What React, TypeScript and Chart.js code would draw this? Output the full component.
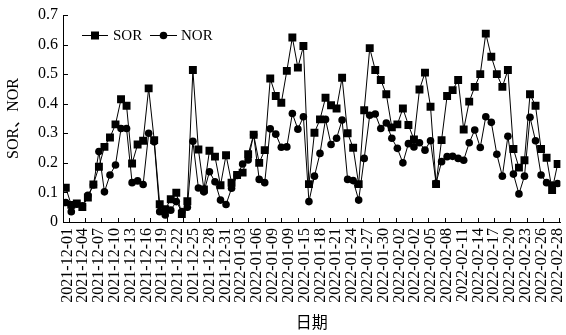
import React, { useEffect, useRef } from 'react';
import { Chart, registerables } from 'chart.js';

Chart.register(...registerables);

const dateLabels = [
  '2021-12-01', '2021-12-04', '2021-12-07', '2021-12-10', '2021-12-13', '2021-12-16',
  '2021-12-19', '2021-12-22', '2021-12-25', '2021-12-28', '2021-12-31',
  '2022-01-03', '2022-01-06', '2022-01-09', '2022-01-09', '2022-01-15', '2022-01-18',
  '2022-01-21', '2022-01-24', '2022-01-27', '2022-01-30',
  '2022-02-02', '2022-02-02', '2022-02-05', '2022-02-08', '2022-02-11', '2022-02-14',
  '2022-02-17', '2022-02-20', '2022-02-23', '2022-02-26', '2022-02-28',
];

const sorValues = [
  0.116, 0.058, 0.063, 0.051, 0.083, 0.127, 0.187, 0.254, 0.286, 0.33,
  0.415, 0.393, 0.198, 0.262, 0.275, 0.452, 0.277, 0.06, 0.043, 0.077,
  0.099, 0.027, 0.07, 0.514, 0.245, 0.11, 0.241, 0.221, 0.124, 0.226,
  0.133, 0.159, 0.167, 0.229, 0.295, 0.2, 0.243, 0.485, 0.426, 0.403,
  0.511, 0.624, 0.522, 0.595, 0.128, 0.302, 0.347, 0.42, 0.395, 0.384,
  0.488, 0.3, 0.251, 0.128, 0.378, 0.588, 0.514, 0.48, 0.432, 0.32,
  0.33, 0.384, 0.328, 0.279, 0.448, 0.505, 0.39, 0.128, 0.277, 0.426,
  0.446, 0.48, 0.313, 0.407, 0.457, 0.5, 0.637, 0.559, 0.5, 0.457,
  0.514, 0.247, 0.184, 0.209, 0.432, 0.393, 0.247, 0.217, 0.108, 0.196,
];

const norValues = [
  0.066, 0.035, 0.06, 0.055, 0.09, 0.125, 0.238, 0.102, 0.159, 0.193,
  0.316, 0.316, 0.133, 0.139, 0.127, 0.3, 0.271, 0.035, 0.024, 0.04,
  0.069, 0.035, 0.05, 0.273, 0.115, 0.102, 0.17, 0.136, 0.074, 0.059,
  0.114, 0.157, 0.196, 0.21, 0.295, 0.144, 0.133, 0.315, 0.297, 0.253,
  0.254, 0.367, 0.314, 0.356, 0.069, 0.155, 0.232, 0.347, 0.262, 0.283,
  0.345, 0.144, 0.14, 0.074, 0.215, 0.361, 0.365, 0.316, 0.335, 0.283,
  0.249, 0.2, 0.265, 0.254, 0.268, 0.243, 0.275, 0.131, 0.204, 0.221,
  0.222, 0.215, 0.209, 0.268, 0.311, 0.252, 0.356, 0.337, 0.229, 0.155,
  0.29, 0.162, 0.095, 0.155, 0.354, 0.275, 0.159, 0.133, 0.125, 0.13,
];

const FONT = '"Liberation Serif", "Times New Roman", "Noto Sans CJK SC", serif';

// axis decoration parameters (in data units of the x axis)
const LABEL_START = 0.3;
const LABEL_STEP = 2.86;
const TICK_START = 0.5;
const TICK_STEP = 2.96;
const TICK_COUNT = 31;

const decorPlugin = {
  id: 'decor',
  afterDraw(chart: any) {
    const { ctx, chartArea, scales } = chart;
    const xs = scales.x;
    const ys = scales.y;
    ctx.save();
    ctx.strokeStyle = '#000';
    ctx.lineWidth = 1;
    ys.ticks.forEach((t: any) => {
      const py = Math.round(ys.getPixelForValue(t.value)) + 0.5;
      ctx.beginPath();
      ctx.moveTo(chartArea.left, py);
      ctx.lineTo(chartArea.left + 5, py);
      ctx.stroke();
    });
    for (let k = 0; k < TICK_COUNT; k++) {
      const px = Math.round(xs.getPixelForValue(TICK_START + k * TICK_STEP)) + 0.5;
      ctx.beginPath();
      ctx.moveTo(px, chartArea.bottom);
      ctx.lineTo(px, chartArea.bottom - 4);
      ctx.stroke();
    }
    const ly = chartArea.top + 20;
    const l0 = chartArea.left;
    ctx.fillStyle = '#000';
    ctx.font = '15px ' + FONT;
    ctx.textBaseline = 'middle';
    ctx.textAlign = 'left';
    ctx.beginPath();
    ctx.moveTo(l0 + 19, ly + 0.5);
    ctx.lineTo(l0 + 45, ly + 0.5);
    ctx.stroke();
    ctx.fillRect(l0 + 32 - 4, ly - 3.5, 8, 8);
    ctx.fillText('SOR', l0 + 50, ly + 1);
    ctx.beginPath();
    ctx.moveTo(l0 + 87, ly + 0.5);
    ctx.lineTo(l0 + 114, ly + 0.5);
    ctx.stroke();
    ctx.beginPath();
    ctx.arc(l0 + 100.5, ly + 0.5, 3.8, 0, Math.PI * 2);
    ctx.fill();
    ctx.fillText('NOR', l0 + 118, ly + 1);
    ctx.restore();
  },
};

export default function App() {
  const ref = useRef<HTMLCanvasElement | null>(null);

  useEffect(() => {
    document.body.style.margin = '0';
    if (!ref.current) return;
    Chart.defaults.font.family = FONT;
    Chart.defaults.color = '#000';
    const chart = new Chart(ref.current, {
      type: 'line',
      data: {
        datasets: [
          {
            label: 'SOR',
            data: sorValues.map((v, i) => ({ x: i, y: v })),
            borderColor: '#000',
            backgroundColor: '#000',
            borderWidth: 1,
            pointStyle: 'rect',
            pointRadius: 5.6,
            pointBorderWidth: 0,
            pointBackgroundColor: '#000',
            tension: 0,
          },
          {
            label: 'NOR',
            data: norValues.map((v, i) => ({ x: i, y: v })),
            borderColor: '#000',
            backgroundColor: '#000',
            borderWidth: 1,
            pointStyle: 'circle',
            pointRadius: 3.8,
            pointBorderWidth: 0,
            pointBackgroundColor: '#000',
            tension: 0,
          },
        ],
      },
      options: {
        animation: false,
        responsive: false,
        layout: { padding: { top: 15, right: 4, left: 0, bottom: 0 } },
        plugins: {
          legend: { display: false },
          tooltip: { enabled: false },
        },
        scales: {
          x: {
            type: 'linear',
            min: -0.5,
            max: 89.5,
            grid: { display: false, drawTicks: false },
            border: { display: true, color: '#000', width: 1 },
            afterBuildTicks: (scale: any) => {
              scale.ticks = dateLabels.map((_, k) => ({ value: LABEL_START + k * LABEL_STEP }));
            },
            afterFit: (scale: any) => {
              scale.height = 113;
              scale.paddingLeft = 0;
              scale.paddingRight = 0;
            },
            ticks: {
              autoSkip: false,
              minRotation: 90,
              maxRotation: 90,
              padding: 6,
              color: '#000',
              font: { size: 16, family: FONT },
              callback: (_v: any, idx: number) => dateLabels[idx],
            },
            title: {
              display: true,
              text: '日期',
              color: '#000',
              font: { size: 16, family: FONT },
              padding: { top: 0, bottom: 2 },
            },
          },
          y: {
            min: 0,
            max: 0.7,
            grid: { display: false, drawTicks: false },
            border: { display: true, color: '#000', width: 1 },
            afterFit: (scale: any) => {
              scale.width = 63;
            },
            ticks: {
              stepSize: 0.1,
              padding: 5,
              color: '#000',
              font: { size: 16, family: FONT },
            },
            title: {
              display: true,
              text: 'SOR、NOR',
              color: '#000',
              font: { size: 16, family: FONT },
              padding: { top: 4, bottom: 0 },
            },
          },
        },
      },
      plugins: [decorPlugin],
    });
    return () => chart.destroy();
  }, []);

  return (
    <div style={{ width: 566, height: 335 }}>
      <canvas ref={ref} width={566} height={335} style={{ display: 'block' }} />
    </div>
  );
}
